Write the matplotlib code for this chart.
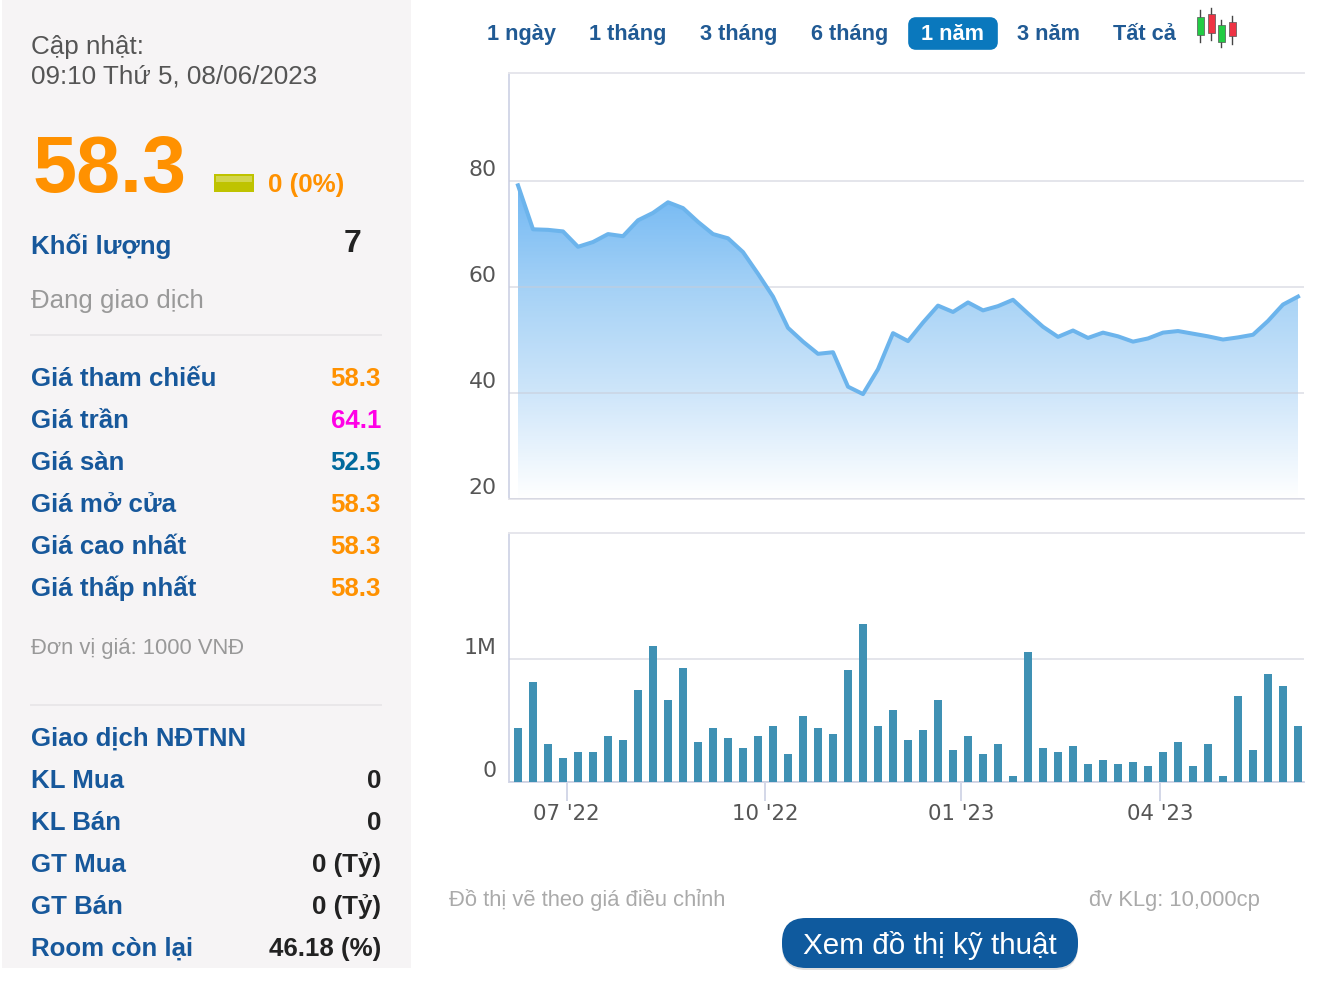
import numpy as np
import matplotlib
matplotlib.use('Agg')
from matplotlib import pyplot as plt
from matplotlib.patches import Rectangle, FancyBboxPatch
from matplotlib.transforms import ScaledTranslation

# Weekly close price and volume (millions)
prices = [79.2, 70.9, 70.8, 70.5, 67.6, 68.5, 70.0, 69.6, 72.6, 74.0,
          76.0, 74.9, 72.3, 70.0, 69.2, 66.6, 62.5, 58.2, 52.3, 49.7,
          47.4, 47.7, 41.2, 39.8, 44.5, 51.3, 49.8, 53.3, 56.5, 55.3,
          57.1, 55.6, 56.4, 57.6, 55.0, 52.5, 50.6, 51.8, 50.4, 51.4,
          50.7, 49.7, 50.3, 51.4, 51.7, 51.2, 50.7, 50.1, 50.5, 51.0,
          53.6, 56.7, 58.2]
volumes = [0.442, 0.816, 0.312, 0.198, 0.247, 0.247, 0.377, 0.344, 0.751, 1.108,
           0.669, 0.930, 0.328, 0.442, 0.360, 0.279, 0.377, 0.458, 0.230, 0.539,
           0.442, 0.393, 0.913, 1.287, 0.458, 0.588, 0.344, 0.425, 0.669, 0.263,
           0.377, 0.230, 0.312, 0.051, 1.060, 0.279, 0.247, 0.295, 0.149, 0.182,
           0.149, 0.165, 0.133, 0.247, 0.328, 0.133, 0.312, 0.051, 0.702, 0.263,
           0.881, 0.783, 0.458]
month_ticks = [3.25, 16.47, 29.53, 42.8]
month_labels = ["07 '22", "10 '22", "01 '23", "04 '23"]
price_ticks = [20, 40, 60, 80]
price_labels = ['20', '40', '60', '80']
volume_ticks = [0, 1]
volume_labels = ['0', '1M']

# Left panel rows
price_rows = ['Giá tham chiếu', 'Giá trần', 'Giá sàn', 'Giá mở cửa', 'Giá cao nhất', 'Giá thấp nhất']
price_values = ['58.3', '64.1', '52.5', '58.3', '58.3', '58.3']
price_colors = ['#ff9100', '#ff00e6', '#00699c', '#ff9100', '#ff9100', '#ff9100']
foreign_rows = ['KL Mua', 'KL Bán', 'GT Mua', 'GT Bán', 'Room còn lại']
foreign_values = ['0', '0', '0 (Tỷ)', '0 (Tỷ)', '46.18 (%)']
periods = ['1 ngày', '1 tháng', '3 tháng', '6 tháng', '1 năm', '3 năm', 'Tất cả']
period_x = [487, 589, 700, 811, 921, 1017, 1113]

# Candle icon: x, wick top, wick bottom, body top, body bottom, colour
icon_candles = [(1200, 10, 42, 17, 35, '#22cc44'), (1211, 8, 40, 14, 33, '#ee3344'),
                (1221, 20, 47, 25, 42, '#22cc44'), (1232, 16, 44, 22, 36, '#ee3344')]

W, H = 1324, 982
BLUE = '#17589b'
GRID = '#e6e6ec'
AXIS = '#d3d7e8'
plt.rcParams['font.family'] = ['Liberation Sans', 'DejaVu Sans']

fig = plt.figure(figsize=(W / 100, H / 100), dpi=100, facecolor='white')

# Whole figure axes in pixels, for the page parts around the charts
page = fig.add_axes([0, 0, 1, 1], zorder=0)
page.set_xlim(0, W)
page.set_ylim(H, 0)
page.axis('off')
page.add_patch(Rectangle((2, 0), 409, 968, fc='#f6f4f5', ec='none'))

page.text(31, 54, 'Cập nhật:', fontsize=18.7, color='#555555')
page.text(31, 83, '09:10 Thứ 5, 08/06/2023', fontsize=18.7, color='#555555')
page.text(33, 192, '58.3', fontsize=57, fontweight='bold', color='#ff9100')
page.add_patch(Rectangle((214, 174), 40, 18, fc='#bfc300', ec='none'))
page.add_patch(Rectangle((216, 176), 36, 6, fc='#d3d64e', ec='none'))
page.text(268, 192, '0 (0%)', fontsize=18.6, fontweight='bold', color='#ff9100')
page.text(31, 254, 'Khối lượng', fontsize=18.6, fontweight='bold', color=BLUE)
page.text(361, 252, '7', fontsize=23, fontweight='bold', color='#222222', ha='right')
page.text(31, 308, 'Đang giao dịch', fontsize=18.6, color='#999999')
page.plot([31, 381], [335, 335], color='#e9e7e9', lw=1.4)

for i in range(len(price_rows)):
    y = 386 + 42 * i
    page.text(31, y, price_rows[i], fontsize=18.6, fontweight='bold', color=BLUE)
    page.text(381, y, price_values[i], fontsize=18.6, fontweight='bold', color=price_colors[i], ha='right')

page.text(31, 654, 'Đơn vị giá: 1000 VNĐ', fontsize=15.8, color='#999999')
page.plot([31, 381], [705, 705], color='#e9e7e9', lw=1.4)
page.text(31, 746, 'Giao dịch NĐTNN', fontsize=18.6, fontweight='bold', color=BLUE)

for i in range(len(foreign_rows)):
    y = 788 + 42 * i
    page.text(31, y, foreign_rows[i], fontsize=18.6, fontweight='bold', color=BLUE)
    page.text(381, y, foreign_values[i], fontsize=18.6, fontweight='bold', color='#222222', ha='right')

# Period buttons on top
page.add_patch(FancyBboxPatch((912, 21), 82, 25, boxstyle='round,pad=0,rounding_size=4', mutation_aspect=1,
                              fc='#0a78bd', ec='#0a78bd', lw=5.5))
for name, x in zip(periods, period_x):
    col = 'white' if name == '1 năm' else '#205a94'
    page.text(x, 40, name, fontsize=15.7, fontweight='bold', color=col)
for x, w0, w1, b0, b1, col in icon_candles:
    page.plot([x, x], [w0, w1], color='#444444', lw=1)
    page.add_patch(Rectangle((x - 3.5, b0), 7, b1 - b0, fc=col, ec='#555555', lw=0.5, zorder=3))

# Notes and the big button at the bottom
page.text(449, 906, 'Đồ thị vẽ theo giá điều chỉnh', fontsize=15.8, color='#aaaaaa')
page.text(1260, 906, 'đv KLg: 10,000cp', fontsize=15.8, color='#aaaaaa', ha='right')
page.add_patch(FancyBboxPatch((782, 920), 296, 50, boxstyle='round,pad=0,rounding_size=24', fc='#dfdfdf', ec='none'))
page.add_patch(FancyBboxPatch((782, 918), 296, 50, boxstyle='round,pad=0,rounding_size=24', fc='#0f5a9e', ec='none'))
page.text(930, 954, 'Xem đồ thị kỹ thuật', fontsize=21.3, color='white', ha='center')

# Chart axes
x = np.arange(len(prices))
left, right = 509, 1304
xlim = ((left - 518) / 15, (right - 518) / 15)

ax1 = fig.add_axes([left / W, 1 - 499 / H, (right - left) / W, 426 / H], zorder=1, facecolor='none')
ax2 = fig.add_axes([left / W, 1 - 782 / H, (right - left) / W, 249 / H], zorder=1, facecolor='none')

# Area under the price line, blue fading to white
area = ax1.fill_between(x, prices, 20, color='none')
gradient = np.linspace(0, 1, 256).reshape(-1, 1)
cmap = matplotlib.colors.LinearSegmentedColormap.from_list('area', ['#ffffff', '#cfe6fa', '#a6d2f6', '#72b8f3'])
img = ax1.imshow(gradient, extent=(x[0], x[-1], 20, 79), origin='lower', aspect='auto', cmap=cmap, zorder=1)
img.set_clip_path(area.get_paths()[0], transform=ax1.transData)
ax1.plot(x, prices, color='#6cb4ec', lw=2.9, zorder=3, solid_joinstyle='round')

ax1.set_xlim(xlim)
ax1.set_ylim(20, 100.4)
ax1.set_yticks(price_ticks, price_labels)
ax1.set_xticks([])

ax2.bar(x, volumes, width=8 / 15, color='#3f91b4', zorder=3)
ax2.set_xlim(xlim)
ax2.set_ylim(0, 2.024)
ax2.set_yticks(volume_ticks, volume_labels)
ax2.set_xticks(month_ticks, month_labels)
ax2.tick_params(axis='x', length=14, width=1.4, color=AXIS, labelsize=15.3, labelcolor='#555555', pad=2)

offset = ScaledTranslation(0, 1 / 100, fig.dpi_scale_trans)
for ax in [ax1, ax2]:
    ax.grid(axis='y', color='#c8cbd8', alpha=0.5, lw=1.4, zorder=2)
    ax.set_axisbelow(False)
    ax.tick_params(axis='y', length=0, pad=9, labelsize=15.8, labelcolor='#555555')
    ax.tick_params(axis='y', labelfontfamily='DejaVu Sans')
    for label in ax.get_yticklabels():
        label.set_verticalalignment('bottom')
        label.set_transform(label.get_transform() + offset)
    ax.spines['right'].set_visible(False)
    ax.spines['top'].set_color(GRID)
    ax.spines['top'].set_linewidth(1.4)
    ax.spines['left'].set_color(AXIS)
    ax.spines['left'].set_linewidth(1.4)
    ax.spines['bottom'].set_color(AXIS)
    ax.spines['bottom'].set_linewidth(1.4)
ax1.spines['bottom'].set_color(GRID)
ax2.tick_params(axis='x', labelfontfamily='DejaVu Sans')

plt.savefig('out.png', dpi=100)
